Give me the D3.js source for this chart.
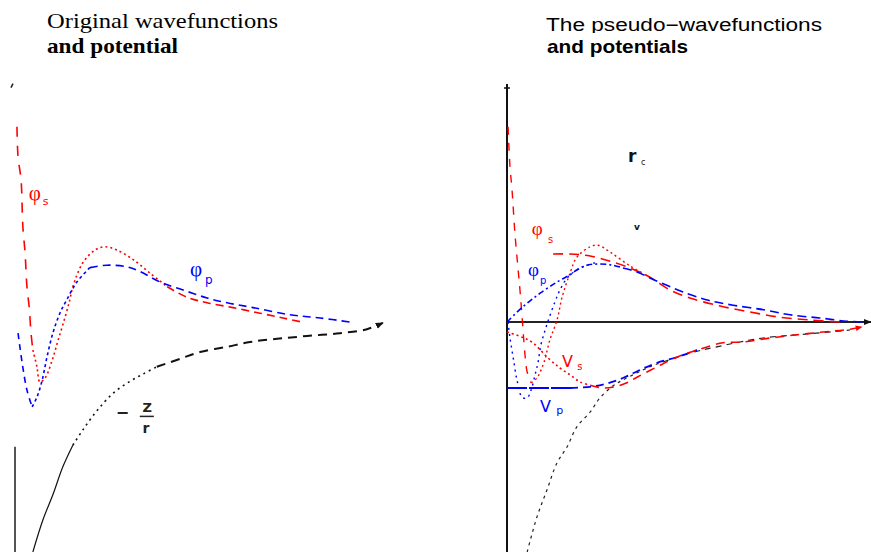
<!DOCTYPE html>
<html>
<head>
<meta charset="utf-8">
<script src="https://cdn.jsdelivr.net/npm/d3@7"></script>
<style>
  html, body { margin: 0; padding: 0; background: #fff; }
  svg { display: block; }
</style>
</head>
<body>
<div id="chart"></div>
<script>
// values: [r, value], r in arbitrary radial units
// left panel: all-electron wavefunctions and the bare potential
const origPhiS = [[0.08, 2.44], [0.11, 2.06], [0.19, 1.78], [0.24, 1.19], [0.30, 0.86], [0.35, 0.44],
    [0.41, 0.19], [0.46, -0.14], [0.51, -0.35], [0.62, -0.56], [0.70, -0.75], [0.84, -0.70],
    [1.03, -0.48], [1.19, -0.23], [1.38, 0.06], [1.51, 0.28], [1.59, 0.44], [1.86, 0.74],
    [2.19, 0.90], [2.46, 0.94], [2.78, 0.90], [3.22, 0.78], [3.68, 0.61], [4.14, 0.44],
    [4.68, 0.31], [5.22, 0.24], [5.92, 0.18], [6.65, 0.11], [7.27, 0.05], [7.78, 0.0]];
const origPhiP = [[0.11, -0.14], [0.22, -0.51], [0.35, -0.85], [0.49, -1.06], [0.62, -0.94],
    [0.76, -0.73], [0.89, -0.44], [1.05, -0.14], [1.24, 0.11], [1.43, 0.28], [1.70, 0.50],
    [2.05, 0.68], [2.51, 0.71], [3.05, 0.69], [3.41, 0.63], [3.95, 0.50], [4.57, 0.40],
    [5.22, 0.30], [5.76, 0.24], [6.46, 0.18], [7.46, 0.09], [8.27, 0.05], [9.08, 0.0]];
const origCoulomb = [[0.51, -2.875], [0.78, -2.475], [1.05, -2.16], [1.32, -1.81], [1.59, -1.54],
    [1.86, -1.35], [2.24, -1.11], [2.68, -0.89], [3.14, -0.74], [3.49, -0.65], [3.86, -0.56],
    [4.49, -0.46], [5.03, -0.375], [5.76, -0.31], [6.38, -0.25], [7.11, -0.21], [7.92, -0.175],
    [8.81, -0.14], [9.54, -0.09], [9.97, -0.01]];

// right panel: all-electron vs pseudo wavefunctions, pseudopotentials
const aePhiS = [[0.03, 2.44], [0.08, 1.96], [0.14, 1.65], [0.22, 1.11], [0.31, 0.65], [0.36, 0.40],
    [0.42, 0.06], [0.50, -0.41], [0.56, -0.625], [0.67, -0.76], [0.83, -0.70], [1.03, -0.50],
    [1.19, -0.225], [1.39, 0.025], [1.53, 0.31], [1.75, 0.61], [1.94, 0.81], [2.31, 0.94],
    [2.53, 0.96], [2.86, 0.875], [3.42, 0.70], [3.97, 0.56]];
const psPhiS = [[1.28, 0.85], [1.75, 0.85], [2.31, 0.825], [2.86, 0.76], [3.42, 0.675], [3.97, 0.56],
    [4.53, 0.40], [5.08, 0.30], [5.92, 0.20], [6.75, 0.125], [7.58, 0.06], [8.42, 0.025], [9.25, 0.0]];
const aePhiP = [[0.03, 0.0], [0.08, -0.19], [0.17, -0.44], [0.28, -0.73], [0.42, -0.94], [0.56, -0.95],
    [0.67, -0.85], [0.78, -0.66], [0.86, -0.51], [0.94, -0.29], [1.06, -0.10], [1.17, 0.05],
    [1.33, 0.25], [1.47, 0.40], [1.69, 0.56], [2.03, 0.675], [2.44, 0.74]];
const psPhiP = [[0.0, 0.0], [0.44, 0.19], [0.92, 0.36], [1.39, 0.50], [1.75, 0.59], [1.94, 0.65],
    [2.22, 0.71], [2.58, 0.725], [2.94, 0.71], [3.22, 0.675], [3.61, 0.625], [3.97, 0.55],
    [4.44, 0.46], [4.89, 0.375], [5.56, 0.275], [6.28, 0.21], [7.17, 0.15], [7.86, 0.09],
    [8.69, 0.05], [9.44, 0.01], [10.0, 0.0]];
const psVs = [[0.0, -0.125], [0.42, -0.19], [0.72, -0.26], [1.14, -0.45], [1.47, -0.575], [1.75, -0.66],
    [2.03, -0.75], [2.31, -0.79], [2.67, -0.825], [3.00, -0.81], [3.33, -0.76], [3.61, -0.69],
    [4.17, -0.56], [4.72, -0.44], [5.28, -0.35], [6.00, -0.26], [6.56, -0.25], [7.31, -0.20],
    [8.06, -0.16], [8.78, -0.125], [9.53, -0.09], [9.86, -0.06]];
const psVp = [[0.0, -0.825], [0.92, -0.825], [1.75, -0.825], [2.31, -0.81], [2.72, -0.775],
    [3.22, -0.70], [3.69, -0.60], [4.17, -0.51], [4.72, -0.44], [5.28, -0.35]];
const psCoulomb = [[0.56, -2.875], [0.83, -2.44], [1.11, -2.10], [1.39, -1.76], [1.67, -1.56],
    [1.94, -1.31], [2.31, -1.125], [2.58, -0.95], [2.94, -0.80], [3.22, -0.725], [3.97, -0.56],
    [4.33, -0.50], [5.08, -0.39], [5.83, -0.31], [7.11, -0.20], [8.33, -0.15], [9.53, -0.10]];

const width = 871, height = 552;
const RED = '#ff0000', BLUE = '#0000ff';
const SERIF = 'Liberation Serif, Times New Roman, serif';

const svg = d3.select('#chart')
    .append('svg')
    .attr('width', width)
    .attr('height', height)
    .attr('font-family', 'Liberation Sans, Arial, sans-serif');

const defs = svg.append('defs');
defs.append('clipPath').attr('id', 'titleClip')
    .append('rect').attr('x', 480).attr('y', 0).attr('width', 391).attr('height', 33);
function arrowMarker(id, color, size) {
    defs.append('marker')
        .attr('id', id)
        .attr('viewBox', '0 0 10 10')
        .attr('refX', 9).attr('refY', 5)
        .attr('markerWidth', size).attr('markerHeight', size)
        .attr('markerUnits', 'userSpaceOnUse')
        .attr('orient', 'auto')
        .append('path')
        .attr('d', 'M0,1 L10,5 L0,9 Z')
        .attr('fill', color);
}
arrowMarker('arrowK', '#111', 8);
arrowMarker('arrowR', RED, 7);

// same vertical scale on both sides (0 sits on the right-hand r axis)
const y = d3.scaleLinear().domain([-3, 3]).range([562, 82]);
const xLeft = d3.scaleLinear().domain([0, 10]).range([14, 384]);
const xRight = d3.scaleLinear().domain([0, 10]).range([507, 867]);

// a curve drawn in pieces, each piece with its own dash pattern
function drawCurve(x, data, color, lineWidth, pieces, marker) {
    const line = d3.line()
        .x(d => x(d[0]))
        .y(d => y(d[1]))
        .curve(d3.curveCatmullRom.alpha(0.5));
    let from = -Infinity;
    pieces.forEach((p, k) => {
        const idx = [];
        data.forEach((d, i) => { if (d[0] >= from && d[0] < p.to) idx.push(i); });
        from = p.to;
        if (!idx.length) return;
        const seg = data.slice(Math.max(idx[0] - 1, 0), idx[idx.length - 1] + 1);
        const path = svg.append('path')
            .datum(seg)
            .attr('fill', 'none')
            .attr('stroke', color)
            .attr('stroke-width', p.w || lineWidth)
            .attr('stroke-dasharray', p.dash)
            .attr('d', line);
        if (marker && k === pieces.length - 1) path.attr('marker-end', `url(#${marker})`);
    });
}

// ---------- titles ----------
svg.append('text')
    .attr('x', 47).attr('y', 28)
    .attr('font-family', SERIF)
    .attr('font-size', 21)
    .attr('textLength', 231).attr('lengthAdjust', 'spacingAndGlyphs')
    .text('Original wavefunctions');
svg.append('text')
    .attr('x', 47).attr('y', 53)
    .attr('font-family', SERIF)
    .attr('font-size', 21).attr('font-weight', 'bold')
    .attr('textLength', 131).attr('lengthAdjust', 'spacingAndGlyphs')
    .text('and potential');
// first line of the right title is cut at its bottom in the reference
svg.append('text')
    .attr('x', 546).attr('y', 31)
    .attr('clip-path', 'url(#titleClip)')
    .attr('font-size', 18)
    .attr('textLength', 276).attr('lengthAdjust', 'spacingAndGlyphs')
    .text('The pseudo\u2212wavefunctions');
svg.append('text')
    .attr('x', 547).attr('y', 53)
    .attr('font-size', 19).attr('font-weight', 'bold')
    .attr('textLength', 141).attr('lengthAdjust', 'spacingAndGlyphs')
    .text('and potentials');

// ---------- axes ----------
// left: only the bottom piece of the vertical axis shows, plus a tick at the top
svg.append('line')
    .attr('x1', xLeft(0) + 1).attr('x2', xLeft(0) + 1)
    .attr('y1', y(-1.56)).attr('y2', height)
    .attr('stroke', '#555').attr('stroke-width', 2);
svg.append('path')
    .attr('d', `M${xLeft(0) - 3},${y(2.93)} l2,-4`)
    .attr('stroke', '#222').attr('stroke-width', 1.5);

// right: r axis with arrow and vertical axis
svg.append('line')
    .attr('x1', xRight(0)).attr('x2', xRight(0))
    .attr('y1', 84).attr('y2', height)
    .attr('stroke', '#111').attr('stroke-width', 2);
svg.append('line')
    .attr('x1', xRight(0) - 3).attr('x2', xRight(0) + 3)
    .attr('y1', 88).attr('y2', 88)
    .attr('stroke', '#111').attr('stroke-width', 1.5);
svg.append('line')
    .attr('x1', xRight(0)).attr('x2', 871)
    .attr('y1', y(0)).attr('y2', y(0))
    .attr('stroke', '#222').attr('stroke-width', 2)
    .attr('marker-end', 'url(#arrowK)');

// ---------- left panel curves ----------
drawCurve(xLeft, origCoulomb, '#111', 1.2, [
    { to: 1.7, dash: null },
    { to: 4.3, dash: '2,4', w: 1.6 },
    { to: 20, dash: '9,6', w: 2 }
], 'arrowK');
drawCurve(xLeft, origPhiS, RED, 1.6, [
    { to: 0.6, dash: '10,9' },
    { to: 4.6, dash: '2,3' },
    { to: 20, dash: '8,5' }
]);
drawCurve(xLeft, origPhiP, BLUE, 1.6, [
    { to: 0.55, dash: '6,5' },
    { to: 2.2, dash: '3,3' },
    { to: 20, dash: '8,5' }
]);

// ---------- right panel curves ----------
drawCurve(xRight, psCoulomb, '#222', 1.2, [
    { to: 4.8, dash: '3,4' },
    { to: 20, dash: '6,5' }
]);
drawCurve(xRight, psVp, BLUE, 1.8, [
    { to: 1.8, dash: '20,2' },
    { to: 20, dash: '8,5' }
]);
drawCurve(xRight, psVs, RED, 1.6, [
    { to: 2.6, dash: '2,3' },
    { to: 20, dash: '9,6' }
], 'arrowR');
drawCurve(xRight, aePhiS, RED, 1.4, [
    { to: 0.7, dash: '8,8' },
    { to: 20, dash: '2,3' }
]);
drawCurve(xRight, psPhiS, RED, 1.6, [
    { to: 20, dash: '10,6' }
]);
drawCurve(xRight, aePhiP, BLUE, 1.4, [
    { to: 20, dash: '2,4' }
]);
drawCurve(xRight, psPhiP, BLUE, 1.6, [
    { to: 3.6, dash: '6,3,2,3' },
    { to: 20, dash: '9,5' }
]);

// ---------- labels ----------
function label(x, r, v, txt, color, size, opts = {}) {
    return svg.append('text')
        .attr('x', x(r)).attr('y', y(v))
        .attr('fill', color)
        .attr('font-size', size)
        .attr('font-weight', opts.bold ? 'bold' : 'normal')
        .attr('font-family', opts.font || 'DejaVu Sans, sans-serif')
        .text(txt);
}
label(xLeft, 0.40, 1.53, '\u03c6', RED, 21, { font: SERIF });
label(xLeft, 0.78, 1.46, 's', RED, 11);
label(xLeft, 4.76, 0.58, '\u03c6', BLUE, 21, { font: SERIF });
label(xLeft, 5.16, 0.48, 'p', BLUE, 12);

label(xLeft, 2.75, -1.2, '\u2212', '#222', 16, { bold: true });
label(xLeft, 3.47, -1.12, 'Z', '#222', 13, { bold: true });
svg.append('line')
    .attr('x1', xLeft(3.40)).attr('x2', xLeft(3.78))
    .attr('y1', y(-1.18)).attr('y2', y(-1.18))
    .attr('stroke', '#222').attr('stroke-width', 1.5);
label(xLeft, 3.47, -1.39, 'r', '#222', 14, { bold: true });

label(xRight, 3.36, 2.0, 'r', '#111', 17, { bold: true });
label(xRight, 3.72, 1.96, 'c', '#111', 8);
label(xRight, 3.53, 1.15, 'v', '#111', 9, { bold: true });

label(xRight, 0.69, 1.09, '\u03c6', RED, 19, { font: SERIF });
label(xRight, 1.14, 0.99, 's', RED, 10);
label(xRight, 0.58, 0.58, '\u03c6', BLUE, 19, { font: SERIF });
label(xRight, 0.92, 0.48, 'p', BLUE, 10);

label(xRight, 1.53, -0.56, 'V', RED, 16);
label(xRight, 1.95, -0.6, 's', RED, 10);
label(xRight, 0.92, -1.12, 'V', BLUE, 16);
label(xRight, 1.37, -1.15, 'p', BLUE, 11);
</script>
</body>
</html>
